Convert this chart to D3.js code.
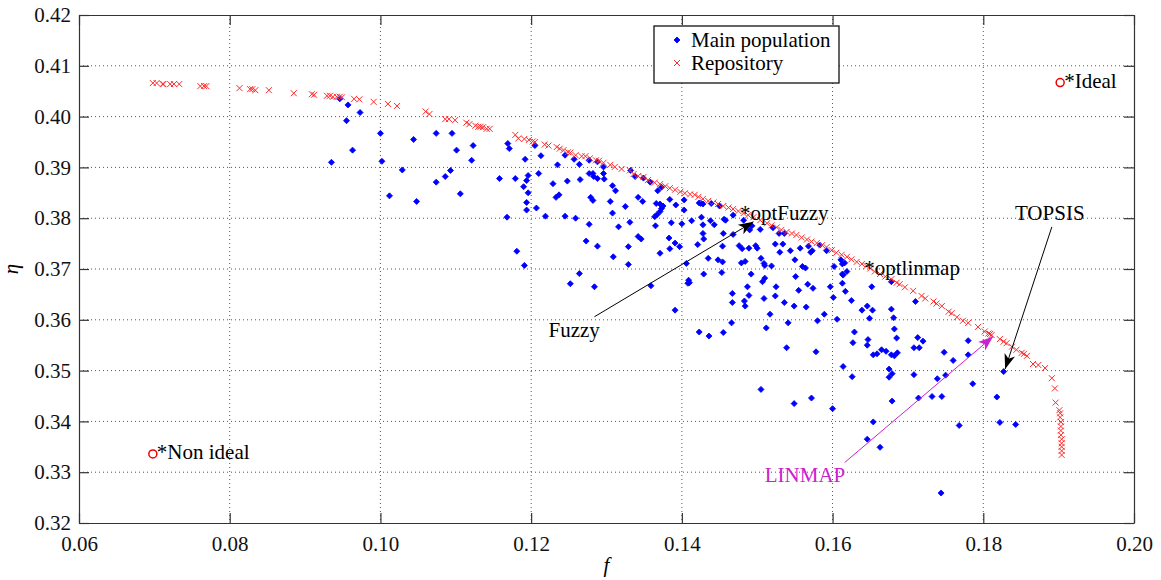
<!DOCTYPE html>
<html>
<head>
<meta charset="utf-8">
<script src="https://cdn.jsdelivr.net/npm/d3@7"></script>
<style>
  body { margin: 0; background: #fff; }
  svg { display: block; font-family: "Liberation Serif", "Times New Roman", serif; }
</style>
</head>
<body>
<svg></svg>
<script>
// main population (f, eta)
let mainPopulation = [
  [0.0946,0.4035],[0.0957,0.4023],[0.0973,0.4008],[0.0955,0.3992],[0.1000,0.3967],[0.0963,0.3934],[0.0935,0.3910],[0.1002,0.3912],[0.1044,0.3955],[0.1074,0.3967],
  [0.1095,0.3967],[0.1101,0.3934],[0.1123,0.3943],[0.1121,0.3914],[0.1029,0.3895],[0.1093,0.3894],[0.1086,0.3882],[0.1074,0.3871],[0.1012,0.3844],[0.1048,0.3833],
  [0.1106,0.3848],[0.1158,0.3878],[0.1169,0.3947],[0.1171,0.3937],[0.1192,0.3916],[0.1179,0.3878],[0.1196,0.3884],[0.1194,0.3874],[0.1190,0.3862],[0.1196,0.3850],
  [0.1194,0.3831],[0.1194,0.3816],[0.1207,0.3820],[0.1168,0.3802],[0.1219,0.3804],[0.1181,0.3735],[0.1191,0.3707],[0.1205,0.3943],[0.1213,0.3923],[0.1210,0.3888],
  [0.1229,0.3868],[0.1235,0.3905],[0.1245,0.3924],[0.1248,0.3873],[0.1233,0.3841],[0.1237,0.3846],[0.1245,0.3804],[0.1259,0.3800],[0.1257,0.3916],[0.1264,0.3906],
  [0.1265,0.3876],[0.1277,0.3888],[0.1282,0.3888],[0.1283,0.3882],[0.1288,0.3878],[0.1277,0.3914],[0.1279,0.3841],[0.1282,0.3835],[0.1277,0.3788],[0.1273,0.3755],
  [0.1288,0.3745],[0.1264,0.3691],[0.1252,0.3671],[0.1284,0.3665],[0.1296,0.3888],[0.1297,0.3877],[0.1296,0.3901],[0.1288,0.3911],[0.1308,0.3864],[0.1312,0.3854],
  [0.1305,0.3833],[0.1308,0.3810],[0.1325,0.3823],[0.1316,0.3783],[0.1331,0.3792],[0.1342,0.3841],[0.1348,0.3833],[0.1332,0.3894],[0.1338,0.3882],[0.1349,0.3879],
  [0.1358,0.3871],[0.1368,0.3854],[0.1373,0.3861],[0.1384,0.3837],[0.1366,0.3829],[0.1371,0.3828],[0.1375,0.3824],[0.1373,0.3819],[0.1371,0.3813],[0.1367,0.3807],
  [0.1364,0.3803],[0.1392,0.3826],[0.1403,0.3836],[0.1403,0.3816],[0.1386,0.3791],[0.1400,0.3789],[0.1365,0.3785],[0.1309,0.3724],[0.1329,0.3744],[0.1342,0.3764],
  [0.1346,0.3759],[0.1329,0.3709],[0.1371,0.3731],[0.1383,0.3761],[0.1391,0.3751],[0.1397,0.3744],[0.1384,0.3740],[0.1406,0.3711],[0.1423,0.3830],[0.1425,0.3829],
  [0.1428,0.3828],[0.1439,0.3829],[0.1450,0.3824],[0.1413,0.3795],[0.1426,0.3802],[0.1428,0.3787],[0.1438,0.3795],[0.1443,0.3787],[0.1456,0.3798],[0.1458,0.3796],
  [0.1468,0.3806],[0.1482,0.3796],[0.1421,0.3748],[0.1428,0.3770],[0.1429,0.3759],[0.1435,0.3721],[0.1448,0.3718],[0.1454,0.3714],[0.1454,0.3745],[0.1455,0.3770],
  [0.1468,0.3768],[0.1476,0.3746],[0.1480,0.3740],[0.1479,0.3712],[0.1484,0.3715],[0.1489,0.3741],[0.1498,0.3746],[0.1500,0.3741],[0.1505,0.3721],[0.1509,0.3711],
  [0.1510,0.3707],[0.1490,0.3777],[0.1493,0.3785],[0.1504,0.3778],[0.1521,0.3781],[0.1529,0.3770],[0.1524,0.3749],[0.1534,0.3749],[0.1519,0.3706],[0.1530,0.3733],
  [0.1536,0.3770],[0.1544,0.3736],[0.1550,0.3718],[0.1560,0.3705],[0.1564,0.3702],[0.1557,0.3741],[0.1568,0.3745],[0.1571,0.3733],[0.1573,0.3736],[0.1583,0.3747],
  [0.1592,0.3736],[0.1602,0.3705],[0.1611,0.3718],[0.1613,0.3710],[0.1616,0.3712],[0.1619,0.3695],[0.1613,0.3690],[0.1359,0.3667],[0.1391,0.3619],[0.1409,0.3678],
  [0.1410,0.3673],[0.1408,0.3672],[0.1423,0.3576],[0.1429,0.3690],[0.1453,0.3693],[0.1492,0.3690],[0.1507,0.3675],[0.1510,0.3682],[0.1487,0.3665],[0.1467,0.3652],
  [0.1489,0.3648],[0.1467,0.3634],[0.1483,0.3637],[0.1484,0.3627],[0.1509,0.3642],[0.1525,0.3665],[0.1524,0.3647],[0.1536,0.3634],[0.1551,0.3685],[0.1555,0.3658],
  [0.1567,0.3670],[0.1574,0.3662],[0.1549,0.3627],[0.1565,0.3625],[0.1517,0.3611],[0.1466,0.3594],[0.1436,0.3568],[0.1455,0.3575],[0.1512,0.3584],[0.1541,0.3594],
  [0.1580,0.3598],[0.1589,0.3611],[0.1539,0.3545],[0.1578,0.3537],[0.1505,0.3463],[0.1549,0.3435],[0.1572,0.3446],[0.1600,0.3425],[0.1597,0.3665],[0.1601,0.3644],
  [0.1613,0.3672],[0.1614,0.3688],[0.1617,0.3656],[0.1652,0.3665],[0.1625,0.3638],[0.1606,0.3601],[0.1639,0.3619],[0.1646,0.3627],[0.1653,0.3619],[0.1649,0.3603],
  [0.1678,0.3621],[0.1681,0.3604],[0.1629,0.3576],[0.1682,0.3582],[0.1685,0.3564],[0.1627,0.3555],[0.1647,0.3561],[0.1646,0.3550],[0.1654,0.3531],[0.1659,0.3533],
  [0.1665,0.3541],[0.1671,0.3538],[0.1678,0.3531],[0.1682,0.3529],[0.1686,0.3535],[0.1614,0.3508],[0.1626,0.3488],[0.1675,0.3503],[0.1679,0.3494],[0.1675,0.3487],
  [0.1679,0.3440],[0.1654,0.3399],[0.1646,0.3365],[0.1663,0.3349],[0.1710,0.3636],[0.1713,0.3565],[0.1720,0.3558],[0.1708,0.3545],[0.1715,0.3545],[0.1748,0.3536],
  [0.1760,0.3520],[0.1780,0.3559],[0.1780,0.3531],[0.1708,0.3492],[0.1739,0.3484],[0.1750,0.3491],[0.1786,0.3474],[0.1714,0.3446],[0.1732,0.3449],[0.1745,0.3449],
  [0.1768,0.3392],[0.1744,0.3259],[0.1818,0.3448],[0.1678,0.3675],[0.1827,0.3498],[0.1822,0.3398],[0.1843,0.3394]
];

// repository (pareto front)
let repository = [
  [0.0698,0.4066],[0.0703,0.4066],[0.0711,0.4064],[0.0712,0.4064],[0.0721,0.4064],[0.0726,0.4064],[0.0733,0.4064],[0.0761,0.4060],[0.0766,0.4060],[0.0769,0.4060],
  [0.0813,0.4056],[0.0827,0.4054],[0.0830,0.4054],[0.0834,0.4052],[0.0852,0.4052],[0.0885,0.4046],[0.0909,0.4044],[0.0912,0.4043],[0.0929,0.4041],[0.0933,0.4041],
  [0.0937,0.4039],[0.0942,0.4039],[0.0946,0.4039],[0.0949,0.4038],[0.0965,0.4035],[0.0972,0.4034],[0.0991,0.4029],[0.1010,0.4025],[0.1022,0.4021],[0.1060,0.4010],
  [0.1065,0.4005],[0.1086,0.3995],[0.1091,0.3995],[0.1099,0.3993],[0.1114,0.3988],[0.1118,0.3985],[0.1126,0.3982],[0.1130,0.3980],[0.1133,0.3980],[0.1136,0.3979],
  [0.1141,0.3976],[0.1145,0.3976],[0.1179,0.3964],[0.1183,0.3957],[0.1191,0.3956],[0.1197,0.3954],[0.1202,0.3951],[0.1205,0.3950],[0.1218,0.3945],[0.1223,0.3943],
  [0.1234,0.3940],[0.1238,0.3937],[0.1243,0.3934],[0.1249,0.3930],[0.1252,0.3929],[0.1259,0.3924],[0.1267,0.3922],[0.1272,0.3922],[0.1278,0.3918],[0.1286,0.3914],
  [0.1290,0.3913],[0.1296,0.3909],[0.1305,0.3905],[0.1311,0.3901],[0.1320,0.3897],[0.1331,0.3894],[0.1336,0.3887],[0.1342,0.3883],[0.1349,0.3881],[0.1355,0.3875],
  [0.1364,0.3870],[0.1371,0.3867],[0.1378,0.3863],[0.1384,0.3859],[0.1391,0.3856],[0.1398,0.3852],[0.1404,0.3849],[0.1411,0.3847],[0.1417,0.3846],[0.1422,0.3842],
  [0.1428,0.3838],[0.1435,0.3834],[0.1442,0.3831],[0.1448,0.3828],[0.1455,0.3824],[0.1462,0.3821],[0.1468,0.3818],[0.1475,0.3814],[0.1482,0.3810],[0.1488,0.3806],
  [0.1495,0.3802],[0.1504,0.3796],[0.1513,0.3790],[0.1519,0.3786],[0.1526,0.3782],[0.1532,0.3777],[0.1539,0.3773],[0.1546,0.3770],[0.1552,0.3767],[0.1559,0.3762],
  [0.1566,0.3758],[0.1572,0.3754],[0.1579,0.3751],[0.1586,0.3747],[0.1592,0.3743],[0.1599,0.3737],[0.1605,0.3732],[0.1612,0.3728],[0.1619,0.3724],[0.1625,0.3719],
  [0.1632,0.3714],[0.1639,0.3710],[0.1645,0.3706],[0.1650,0.3701],[0.1656,0.3695],[0.1663,0.3690],[0.1670,0.3685],[0.1678,0.3680],[0.1685,0.3673],[0.1689,0.3670],
  [0.1696,0.3664],[0.1707,0.3657],[0.1718,0.3647],[0.1723,0.3642],[0.1734,0.3636],[0.1738,0.3632],[0.1745,0.3627],[0.1754,0.3616],[0.1758,0.3613],[0.1765,0.3605],
  [0.1773,0.3598],[0.1780,0.3594],[0.1793,0.3586],[0.1802,0.3577],[0.1807,0.3573],[0.1809,0.3572],[0.1811,0.3570],[0.1822,0.3562],[0.1827,0.3557],[0.1831,0.3554],
  [0.1838,0.3547],[0.1844,0.3541],[0.1851,0.3535],[0.1854,0.3533],[0.1858,0.3529],[0.1866,0.3513],[0.1873,0.3511],[0.1882,0.3505],[0.1891,0.3485],[0.1895,0.3465],
  [0.1896,0.3437],[0.1901,0.3422],[0.1902,0.3416],[0.1902,0.3408],[0.1903,0.3399],[0.1903,0.3390],[0.1903,0.3382],[0.1903,0.3373],[0.1904,0.3365],[0.1904,0.3357],
  [0.1904,0.3350],[0.1904,0.3342],[0.1904,0.3334]
];

let idealPoint = [0.1902, 0.4067];
let nonIdealPoint = [0.0698, 0.3336];

let xTicks = [0.06, 0.08, 0.10, 0.12, 0.14, 0.16, 0.18, 0.20];
let yTicks = [0.32, 0.33, 0.34, 0.35, 0.36, 0.37, 0.38, 0.39, 0.40, 0.41, 0.42];

// text labels and arrows, in data units
let labels = [
  { text: "*optFuzzy", f: 0.1477, eta: 0.3796, color: "#000" },
  { text: "*optlinmap", f: 0.1642, eta: 0.3688, color: "#000" },
  { text: "Fuzzy", f: 0.1223, eta: 0.3567, color: "#000" },
  { text: "TOPSIS", f: 0.1842, eta: 0.3796, color: "#000" },
  { text: "LINMAP", f: 0.1510, eta: 0.3281, color: "#cc22cc" },
];
let arrows = [
  { from: [0.1284, 0.3606], to: [0.1495, 0.3793], color: "#000" },
  { from: [0.1891, 0.3783], to: [0.1829, 0.3503], color: "#000" },
  { from: [0.1616, 0.3319], to: [0.1813, 0.3567], color: "#cc22cc" },
];

let width = 1161;
let height = 580;
let plot = { left: 79, right: 1134, top: 15, bottom: 523 };
let fontSize = 21;

let svg = d3.select("svg").attr("width", width).attr("height", height);

let xScale = d3.scaleLinear().domain([0.06, 0.20]).range([plot.left, plot.right]);
let yScale = d3.scaleLinear().domain([0.32, 0.42]).range([plot.bottom, plot.top]);

let xMark = "M-3,-3L3,3M-3,3L3,-3";
let dotMark = d3.symbol(d3.symbolSquare, 18)();

let drawGrid = () => {
  let grid = svg.append("g").attr("stroke", "#555").attr("stroke-dasharray", "1,3").attr("stroke-width", 1);
  grid.selectAll(".gx").data(xTicks.slice(1, -1)).enter().append("line")
    .attr("x1", (d) => xScale(d)).attr("x2", (d) => xScale(d))
    .attr("y1", plot.top).attr("y2", plot.bottom);
  grid.selectAll(".gy").data(yTicks.slice(1, -1)).enter().append("line")
    .attr("x1", plot.left).attr("x2", plot.right)
    .attr("y1", (d) => yScale(d)).attr("y2", (d) => yScale(d));
};

let drawAxes = () => {
  let fmt = d3.format(".2f");
  let bottom = svg.append("g").attr("transform", "translate(0," + plot.bottom + ")")
    .call(d3.axisBottom(xScale).tickValues(xTicks).tickFormat(fmt).tickSizeInner(-10).tickSizeOuter(0).tickPadding(13));
  let left = svg.append("g").attr("transform", "translate(" + plot.left + ",0)")
    .call(d3.axisLeft(yScale).tickValues(yTicks).tickFormat(fmt).tickSizeInner(-10).tickSizeOuter(0).tickPadding(8));
  let top = svg.append("g").attr("transform", "translate(0," + plot.top + ")")
    .call(d3.axisTop(xScale).tickValues(xTicks).tickFormat("").tickSizeInner(-10).tickSizeOuter(0));
  let right = svg.append("g").attr("transform", "translate(" + plot.right + ",0)")
    .call(d3.axisRight(yScale).tickValues(yTicks).tickFormat("").tickSizeInner(-10).tickSizeOuter(0));

  [bottom, left, top, right].forEach((g) => {
    g.select(".domain").attr("stroke", "#333").attr("stroke-width", 1.2);
    g.selectAll(".tick line").attr("stroke", "#333").attr("stroke-width", 1.2);
    g.selectAll(".tick text").attr("font-size", fontSize).attr("font-family", "Liberation Serif").attr("fill", "#111");
  });

  svg.append("text").text("f")
    .attr("x", xScale(0.13)).attr("y", 572)
    .attr("text-anchor", "middle").attr("font-style", "italic").attr("font-size", fontSize);
  svg.append("text").text("η")
    .attr("transform", "translate(18," + yScale(0.37) + ") rotate(-90)")
    .attr("text-anchor", "middle").attr("font-style", "italic").attr("font-size", fontSize);
};

let drawPoints = () => {
  svg.append("g").selectAll("path").data(mainPopulation).enter().append("path")
    .attr("d", dotMark)
    .attr("transform", (d) => "translate(" + xScale(d[0]) + "," + yScale(d[1]) + ") rotate(45)")
    .attr("fill", "#0000ff").attr("stroke", "#0000ff").attr("stroke-width", 0.8);

  svg.append("g").selectAll("path").data(repository).enter().append("path")
    .attr("d", xMark)
    .attr("transform", (d) => "translate(" + xScale(d[0]) + "," + yScale(d[1]) + ")")
    .attr("fill", "none").attr("stroke", "#ff2a2a").attr("stroke-width", 1);

  [[idealPoint, "*Ideal"], [nonIdealPoint, "*Non ideal"]].forEach(([p, t]) => {
    svg.append("circle")
      .attr("cx", xScale(p[0])).attr("cy", yScale(p[1])).attr("r", 4)
      .attr("fill", "none").attr("stroke", "#ee0000").attr("stroke-width", 1.5);
    svg.append("text").text(t)
      .attr("x", xScale(p[0]) + 4).attr("y", yScale(p[1]) + 5)
      .attr("font-size", fontSize);
  });
};

let drawAnnotations = () => {
  let defs = svg.append("defs");
  arrows.forEach((a, i) => {
    defs.append("marker")
      .attr("id", "head" + i)
      .attr("markerUnits", "userSpaceOnUse")
      .attr("viewBox", "-16 -6 17 12")
      .attr("refX", 0).attr("refY", 0)
      .attr("markerWidth", 17).attr("markerHeight", 12)
      .attr("orient", "auto")
      .append("path")
      .attr("d", "M0,0L-15,-5.5L-11,0L-15,5.5Z")
      .attr("fill", a.color);
    svg.append("line")
      .attr("x1", xScale(a.from[0])).attr("y1", yScale(a.from[1]))
      .attr("x2", xScale(a.to[0])).attr("y2", yScale(a.to[1]))
      .attr("stroke", a.color).attr("stroke-width", 1)
      .attr("marker-end", "url(#head" + i + ")");
  });

  svg.append("g").selectAll("text").data(labels).enter().append("text")
    .text((d) => d.text)
    .attr("x", (d) => xScale(d.f)).attr("y", (d) => yScale(d.eta))
    .attr("fill", (d) => d.color)
    .attr("font-size", fontSize);
};

let drawLegend = () => {
  let legend = svg.append("g").attr("id", "legend");
  legend.append("rect")
    .attr("x", 654).attr("y", 26).attr("width", 185).attr("height", 57)
    .attr("fill", "#fff").attr("stroke", "#111").attr("stroke-width", 1.3);
  legend.append("path").attr("d", dotMark)
    .attr("transform", "translate(677,40) rotate(45)")
    .attr("fill", "#0000ff").attr("stroke", "#0000ff").attr("stroke-width", 0.8);
  legend.append("path").attr("d", xMark)
    .attr("transform", "translate(677,63)")
    .attr("fill", "none").attr("stroke", "#ff2a2a").attr("stroke-width", 1);
  legend.append("text").text("Main population").attr("x", 691).attr("y", 47).attr("font-size", fontSize);
  legend.append("text").text("Repository").attr("x", 691).attr("y", 70).attr("font-size", fontSize);
};

drawGrid();
drawAxes();
drawPoints();
drawAnnotations();
drawLegend();
</script>
</body>
</html>
